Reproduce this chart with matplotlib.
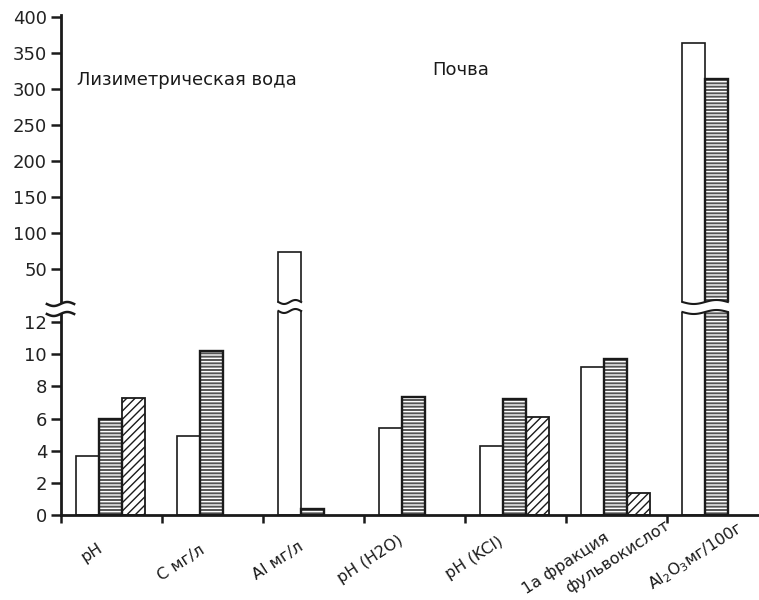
import numpy as np
import matplotlib
matplotlib.use("Agg")
import matplotlib.pyplot as plt
from matplotlib.transforms import blended_transform_factory
from matplotlib.patches import Polygon
from matplotlib.lines import Line2D

plt.rcParams["font.family"] = ["DejaVu Sans"]
plt.rcParams["hatch.linewidth"] = 1.0

# ---- data -------------------------------------------------------------
categories = ["pH", "C мг/л", "Al мг/л", "pH (H2O)", "pH (KCl)",
              "1а фракция", "Al$_2$O$_3$мг/100г"]
category_extra_line = {5: "фульвокислот"}
white_vals = [3.7, 4.9, 73, 5.4, 4.3, 9.2, 364]
lined_vals = [6.0, 10.2, 0.35, 7.35, 7.2, 9.7, 314]
striped_vals = [7.3, np.nan, np.nan, np.nan, 6.1, 1.35, np.nan]
upper_ticks = [50, 100, 150, 200, 250, 300, 350, 400]
lower_ticks = [0, 2, 4, 6, 8, 10, 12]
panel_titles = ["Лизиметрическая вода", "Почва"]

# ---- layout -----------------------------------------------------------
W, H = 759, 600
fig = plt.figure(figsize=(W / 100, H / 100), dpi=100)
left = 61 / W
ax_hi = fig.add_axes([left, 1 - 306 / H, 1 - left, (306 - 15) / H])
ax_lo = fig.add_axes([left, 1 - 515 / H, 1 - left, (515 - 310) / H])

lo_top = (515 - 310) / 16.08          # upper limit of the lower panel
hi_bottom = 400 - (306 - 17) / 0.72   # lower limit of the upper panel

x = np.arange(len(categories))
width = 0.225
offs = [-0.235, -0.01, 0.215]
ink = "#1a1a1a"


def draw_bars(ax, floor=None):
    def arr(v):
        a = np.array(v, dtype=float)
        if floor is not None:
            a[a < floor] = np.nan
        return a

    wv, lv, sv = arr(white_vals), arr(lined_vals), arr(striped_vals)
    m = ~np.isnan(wv)
    ax.bar(x[m] + offs[0], wv[m], width, facecolor="white",
           edgecolor=ink, linewidth=1.2, zorder=2)
    m = ~np.isnan(lv)
    ax.bar(x[m] + offs[1], lv[m], width, facecolor="#555555",
           edgecolor="white", hatch="-----", linewidth=0, zorder=2)
    ax.bar(x[m] + offs[1], lv[m], width, fill=False,
           edgecolor=ink, linewidth=1.7, zorder=3)
    m = ~np.isnan(sv)
    if m.any():
        ax.bar(x[m] + offs[2], sv[m], width, facecolor="white",
               edgecolor=ink, hatch="////", linewidth=1.3, zorder=2)


draw_bars(ax_hi, floor=lo_top)
draw_bars(ax_lo)

for ax in (ax_hi, ax_lo):
    ax.set_xlim(-0.5, -0.5 + (W - 61) / 101)
    for s in ("top", "right"):
        ax.spines[s].set_visible(False)
    ax.spines["left"].set_linewidth(2.0)
    ax.spines["left"].set_color(ink)
    ax.tick_params(axis="y", direction="out", length=7, width=1.8,
                   labelsize=13, labelcolor="#222222", color=ink, pad=3)

# upper panel
ax_hi.set_ylim(hi_bottom, 400 + 2 / 0.72)
ax_hi.set_yticks(upper_ticks)
ax_hi.spines["bottom"].set_visible(False)
ax_hi.set_xticks([])

# lower panel
ax_lo.set_ylim(0, lo_top)
ax_lo.set_yticks(lower_ticks)
ax_lo.spines["bottom"].set_linewidth(2.0)
ax_lo.spines["bottom"].set_color(ink)
ax_lo.set_xticks(x)
ax_lo.set_xticklabels([])
ax_lo.tick_params(axis="x", which="major", length=0)
ax_lo.set_xticks(np.arange(-0.5, len(categories) - 0.5, 1.0), minor=True)
ax_lo.tick_params(axis="x", which="minor", direction="out", length=6,
                  width=1.8, color=ink)

# panel captions
ax_hi.text(-0.342, 312, panel_titles[0], va="center", ha="left",
           fontsize=13, color=ink)
ax_hi.text(3.18, 326, panel_titles[1], va="center", ha="left",
           fontsize=13, color=ink)

# category labels, offsets in pixels from the group centre on the axis
label_rot = 33
label_size = 11.5
label_offsets = [(-14, -25), (-13, -27), (-16, -24), (-17, -18), (-18, -19),
                 (-13, -15), (19, -4)]
for i, lab in enumerate(categories):
    dx, dy = label_offsets[i]
    ax_lo.annotate(lab, xy=(x[i], 0), xycoords=("data", "axes fraction"),
                   xytext=(dx * 0.72, dy * 0.72), textcoords="offset points",
                   rotation=label_rot, rotation_mode="anchor",
                   ha="right", va="top", fontsize=label_size, color=ink,
                   annotation_clip=False)
for i, lab in category_extra_line.items():
    ax_lo.annotate(lab, xy=(x[i], 0), xycoords=("data", "axes fraction"),
                   xytext=(48 * 0.72, -3 * 0.72), textcoords="offset points",
                   rotation=label_rot, rotation_mode="anchor",
                   ha="right", va="top", fontsize=label_size, color=ink,
                   annotation_clip=False)

# ---- broken-axis marks ------------------------------------------------
trans = blended_transform_factory(ax_lo.transData, fig.transFigure)


def wave(x0, x1, ypx, amp=2.0, n=40):
    xs = np.linspace(x0, x1, n)
    ys = (H - ypx - amp * np.sin(2 * np.pi * (xs - x0) / (x1 - x0))) / H
    return xs, ys


def break_band(x0, x1, ytop, ybot, pad=0.03, line_x=None, lw=1.5):
    xa, ya = wave(x0 - pad, x1 + pad, ytop)
    xb, yb = wave(x0 - pad, x1 + pad, ybot)
    poly = np.column_stack([np.concatenate([xa, xb[::-1]]),
                            np.concatenate([ya, yb[::-1]])])
    fig.add_artist(Polygon(poly, closed=True, facecolor="white",
                           edgecolor="none", transform=trans, zorder=5))
    lx0, lx1 = line_x if line_x else (x0, x1)
    for yy in (ytop, ybot):
        xs, ys = wave(lx0, lx1, yy)
        fig.add_artist(Line2D(xs, ys, color=ink, lw=lw, transform=trans,
                              zorder=6))


# on the value axis
break_band(-0.58, -0.42, 304, 314, pad=0.0, line_x=(-0.64, -0.37), lw=1.8)
# Al bar
b0 = x[2] + offs[0] - width / 2
b1 = x[2] + offs[0] + width / 2
break_band(b0, b1, 302, 311, pad=0.02)
# Al2O3 bars
c0 = x[6] + offs[0] - width / 2
c1 = x[6] + offs[1] + width / 2
break_band(c0, c1, 302, 312, pad=0.02)

fig.savefig("out.png", dpi=100, facecolor="white")
